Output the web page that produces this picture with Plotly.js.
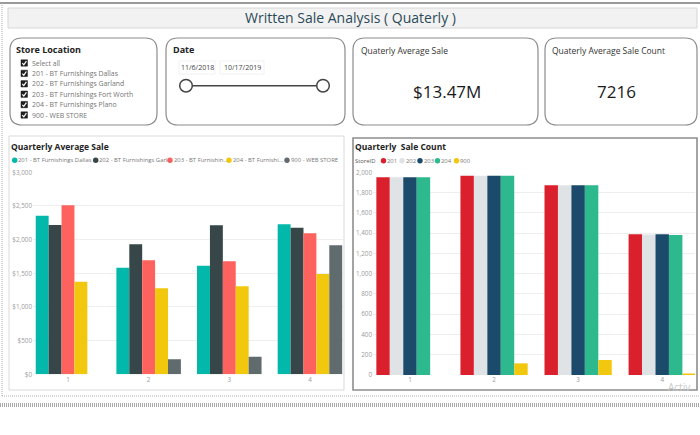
<!DOCTYPE html>
<html>
<head>
<meta charset="utf-8">
<script src="https://cdn.plot.ly/plotly-3.0.1.min.js"></script>
<style>html,body{margin:0;padding:0;background:#fff;}#chart{width:700px;height:435px;}</style>
</head>
<body>
<div id="chart"></div>
<script>
// ---------- DATA ----------
const quarters = [1, 2, 3, 4];
const quarterLabels = ['1', '2', '3', '4'];

const storeNames = ['201 - BT Furnishings Dallas', '202 - BT Furnishings Garland', '203 - BT Furnishings Fort Worth', '204 - BT Furnishings Plano', '900 - WEB STORE'];
const legendLabelsAvg = ['201 - BT Furnishings Dallas', '202 - BT Furnishings Garl...', '203 - BT Furnishin...', '204 - BT Furnishi...', '900 - WEB STORE'];
const storeIds = ['201', '202', '203', '204', '900'];

// Quarterly average sale ($)
const avg201 = [2355, 1583, 1613, 2228];
const avg202 = [2217, 1931, 2213, 2177];
const avg203 = [2510, 1693, 1678, 2094];
const avg204 = [1375, 1277, 1307, 1490];
const avg900 = [null, 223, 261, 1916];
const avgTickVals = [0, 500, 1000, 1500, 2000, 2500, 3000];
const avgTickText = ['$0', '$500', '$1,000', '$1,500', '$2,000', '$2,500', '$3,000'];

// Quarterly sale count
const cnt201 = [1951, 1967, 1872, 1388];
const cnt202 = [1950, 1966, 1871, 1386];
const cnt203 = [1951, 1967, 1872, 1388];
const cnt204 = [1951, 1967, 1872, 1382];
const cnt900 = [null, 115, 148, 15];

const slicerItems = ['Select all', '201 - BT Furnishings Dallas', '202 - BT Furnishings Garland', '203 - BT Furnishings Fort Worth', '204 - BT Furnishings Plano', '900 - WEB STORE'];
const dateStart = '11/6/2018';
const dateEnd = '10/17/2019';
const kpiAvgSale = '$13.47M';
const kpiAvgCount = '7216';

// ---------- STYLE ----------
const avgColors = ['#01B8AA', '#374649', '#FD625E', '#F2C80F', '#5F6B6D'];
const cntColors = ['#D9202C', '#E0E3E6', '#1B4A6A', '#2DB88E', '#F2C80F'];
const FONT = 'Open Sans, Noto Sans, sans-serif';

const X = v => v / 700;
const Y = v => 1 - v / 435;

function rr(x0, y0, x1, y1, r) {
  return `M${X(x0 + r)},${Y(y0)} L${X(x1 - r)},${Y(y0)} Q${X(x1)},${Y(y0)} ${X(x1)},${Y(y0 + r)} ` +
    `L${X(x1)},${Y(y1 - r)} Q${X(x1)},${Y(y1)} ${X(x1 - r)},${Y(y1)} L${X(x0 + r)},${Y(y1)} ` +
    `Q${X(x0)},${Y(y1)} ${X(x0)},${Y(y1 - r)} L${X(x0)},${Y(y0 + r)} Q${X(x0)},${Y(y0)} ${X(x0 + r)},${Y(y0)} Z`;
}

const shapes = [];
const annotations = [];

function txt(x, y, text, opts) {
  opts = opts || {};
  const xa = opts.xanchor || 'left';
  annotations.push({
    xref: 'paper', yref: 'paper', x: X(xa === 'left' ? x - 2 : x), y: Y(y), text: text, showarrow: false,
    xanchor: xa, yanchor: opts.yanchor || 'middle', borderpad: 0,
    font: { family: opts.family || FONT, size: opts.size || 8, color: opts.color || '#333' }
  });
}
function rect(x0, y0, x1, y1, line, fill, width, dash) {
  shapes.push({ type: 'rect', xref: 'paper', yref: 'paper', x0: X(x0), x1: X(x1), y0: Y(y0), y1: Y(y1),
    line: { color: line, width: width === undefined ? 1 : width, dash: dash || 'solid' }, fillcolor: fill || 'rgba(0,0,0,0)', layer: 'below' });
}
function line(x0, y0, x1, y1, color, width, dash) {
  shapes.push({ type: 'line', xref: 'paper', yref: 'paper', x0: X(x0), x1: X(x1), y0: Y(y0), y1: Y(y1),
    line: { color: color, width: width, dash: dash || 'solid' } });
}
function circle(cx, cy, r, fill, lineColor, lw) {
  shapes.push({ type: 'circle', xref: 'paper', yref: 'paper', x0: X(cx - r), x1: X(cx + r), y0: Y(cy + r), y1: Y(cy - r),
    fillcolor: fill, line: { color: lineColor || fill, width: lw === undefined ? 0 : lw } });
}

// Page frame
line(0, 3, 700, 3, '#9a9a9a', 2);
line(2, 3, 2, 396, '#a8a8a8', 1, '1px,1px');
line(2, 396, 700, 396, '#b0b0b0', 1, '1px,1px');
line(0, 405, 700, 405, '#a9a9a9', 4, '1px,1px');

// Title bar
rect(8, 8, 697, 28, '#d6d6d6', '#f2f2f2', 1);
txt(350, 18, 'Written Sale Analysis ( Quaterly )', { xanchor: 'center', size: 14, color: '#2b4a57' });

// Cards
[[10, 38, 157, 125], [166, 38, 345, 125], [353, 38, 538, 125], [545, 38, 697, 125]].forEach(c => {
  shapes.push({ type: 'path', xref: 'paper', yref: 'paper', path: rr(c[0], c[1], c[2], c[3], 12),
    line: { color: '#8c8c8c', width: 1.2 }, fillcolor: '#ffffff', layer: 'below' });
});

// Store slicer
txt(17, 49, '<b>Store Location</b>', { size: 9, color: '#222' });
slicerItems.forEach((s, i) => {
  const cy = 63 + i * 10.4;
  shapes.push({ type: 'rect', xref: 'paper', yref: 'paper', x0: X(21), x1: X(27.5), y0: Y(cy + 3.2), y1: Y(cy - 3.2),
    fillcolor: '#1e1e1e', line: { color: '#1e1e1e', width: 0.5 } });
  shapes.push({ type: 'path', xref: 'paper', yref: 'paper',
    path: `M${X(22.3)},${Y(cy + 0.2)} L${X(23.8)},${Y(cy + 1.8)} L${X(26.4)},${Y(cy - 1.9)}`,
    line: { color: '#ffffff', width: 1.2 } });
  txt(32.5, cy, s, { size: 6.9, color: '#757575' });
});

// Date slicer
txt(174, 49, '<b>Date</b>', { size: 9, color: '#222' });
rect(179, 61, 215, 74, '#eeeeee', '#ffffff', 0.8);
rect(220, 61, 264, 74, '#eeeeee', '#ffffff', 0.8);
txt(197, 67.7, dateStart, { xanchor: 'center', size: 7, color: '#444' });
txt(242, 67.7, dateEnd, { xanchor: 'center', size: 7, color: '#444' });
line(186, 85.7, 323, 85.7, '#444', 1.5);
circle(186, 85.7, 6.3, '#ffffff', '#444', 1.5);
circle(323, 85.7, 6.3, '#ffffff', '#444', 1.5);

// KPI cards
txt(362, 50.5, 'Quaterly Average Sale', { size: 8.5, color: '#333' });
txt(446.5, 91.5, kpiAvgSale, { xanchor: 'center', size: 17, color: '#1a1a1a' });
txt(553, 50.5, 'Quaterly Average Sale Count', { size: 8.5, color: '#333' });
txt(616.5, 91.5, kpiAvgCount, { xanchor: 'center', size: 17, color: '#1a1a1a' });

// Chart panels
rect(9, 136, 344, 390, '#d9d9d9', '#ffffff', 1);
rect(353, 138, 697, 390, '#8e8e8e', '#ffffff', 1.6);
txt(12, 146, '<b>Quarterly Average Sale</b>', { size: 8.5, color: '#222' });
txt(356, 146, '<b>Quarterly  Sale Count</b>', { size: 8.5, color: '#222' });

// Legends
const avgLegX = [14.7, 95.7, 170, 229, 287];
legendLabelsAvg.forEach((l, i) => {
  circle(avgLegX[i], 160.3, 2.7, avgColors[i]);
  txt(avgLegX[i] + 4.5, 160.3, l, { size: 5.9, color: '#777' });
});
txt(356, 160.7, 'StoreID', { size: 5.9, color: '#555' });
const cntLegX = [383.5, 402, 420, 437.5, 456.5];
storeIds.forEach((l, i) => {
  circle(cntLegX[i], 160.7, 2.7, cntColors[i]);
  txt(cntLegX[i] + 4.5, 160.7, l, { size: 5.9, color: '#777' });
});

// Watermark
txt(669, 387, 'Activ', { size: 10, color: '#c8c8c8' });

// ---------- TRACES ----------
const avgSeries = [avg201, avg202, avg203, avg204, avg900];
const cntSeries = [cnt201, cnt202, cnt203, cnt204, cnt900];
const traces = [];
avgSeries.forEach((s, i) => traces.push({
  type: 'bar', x: quarters, y: s, name: storeNames[i], marker: { color: avgColors[i] },
  xaxis: 'x', yaxis: 'y', showlegend: false
}));
cntSeries.forEach((s, i) => traces.push({
  type: 'bar', x: quarters, y: s, name: storeIds[i], marker: { color: cntColors[i] },
  xaxis: 'x2', yaxis: 'y2', showlegend: false
}));

const tickFont = { family: FONT, size: 6.3, color: '#9a9a9a' };
const layout = {
  width: 700, height: 435,
  margin: { l: 0, r: 0, t: 0, b: 0 },
  paper_bgcolor: 'rgba(0,0,0,0)', plot_bgcolor: 'rgba(0,0,0,0)',
  barmode: 'group', bargap: 0.2, bargroupgap: 0,
  showlegend: false,
  xaxis: { domain: [X(33), X(343)], range: [0.566, 4.41], tickvals: quarters, ticktext: quarterLabels,
    showgrid: false, zeroline: false, showline: false, tickfont: tickFont, ticks: '', fixedrange: true },
  yaxis: { domain: [Y(374.3), Y(172.3)], range: [0, 3000], tickvals: avgTickVals, ticktext: avgTickText,
    showgrid: true, gridcolor: '#eeeeee', gridwidth: 1, zeroline: false,
    tickfont: tickFont, ticks: '', anchor: 'x' },
  xaxis2: { domain: [X(373), X(695)], range: [0.56, 4.39], tickvals: quarters, ticktext: quarterLabels,
    showgrid: false, zeroline: false, showline: false, tickfont: tickFont, ticks: '', anchor: 'y2' },
  yaxis2: { domain: [Y(375), Y(172.3)], range: [0, 2000], dtick: 200, tickformat: ',',
    showgrid: true, gridcolor: '#eeeeee', gridwidth: 1, zeroline: false, tickfont: tickFont, ticks: '', anchor: 'x2' },
  shapes: shapes,
  annotations: annotations
};

Plotly.newPlot('chart', traces, layout, { displayModeBar: false, staticPlot: true });
</script>
</body>
</html>
